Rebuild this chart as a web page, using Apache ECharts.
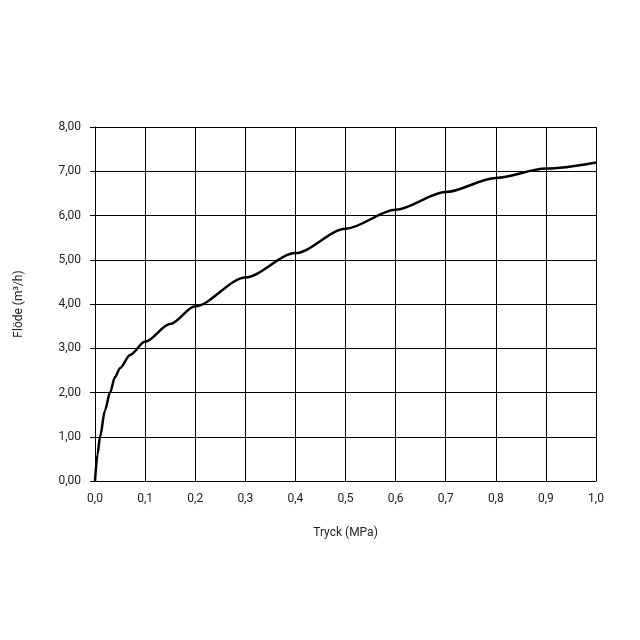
<!DOCTYPE html>
<html><head><meta charset="utf-8">
<script src="https://cdn.jsdelivr.net/npm/echarts@6/dist/echarts.min.js"></script>
<style>html,body{margin:0;padding:0;background:#fff}#c{width:640px;height:640px}</style>
</head><body><div id="c"></div>
<script>
const pressure = [0,0.005,0.01,0.02,0.03,0.04,0.05,0.07,0.1,0.15,0.2,0.3,0.4,0.5,0.6,0.7,0.8,0.9,1.0];
const flow = [0,0.6,1.0,1.6,2.0,2.35,2.55,2.85,3.15,3.55,3.95,4.6,5.15,5.7,6.13,6.53,6.85,7.06,7.2];
const data = pressure.map((p,i)=>[p,flow[i]]);
const chart = echarts.init(document.getElementById('c'));
const font = 'Roboto';
chart.setOption({
  animation:false,
  grid:{left:95,right:44,top:127,bottom:159},
  xAxis:{type:'value',min:0,max:1,interval:0.1,name:'Tryck (MPa)',nameLocation:'middle',nameGap:46,
    nameTextStyle:{color:'#222',fontSize:12,fontFamily:font},
    axisLine:{lineStyle:{color:'#000'}},axisTick:{show:false},
    splitLine:{lineStyle:{color:'#000',width:1}},
    axisLabel:{color:'#222',fontSize:12,fontFamily:font,margin:12,formatter:v=>v.toFixed(1).replace('.',',')}},
  yAxis:{type:'value',min:0,max:8,interval:1,name:'Flöde (m³/h)',nameLocation:'middle',nameGap:70,
    nameTextStyle:{color:'#222',fontSize:12,fontFamily:font},
    axisLine:{show:true,lineStyle:{color:'#000'}},axisTick:{show:true,length:5,lineStyle:{color:'#000'}},
    splitLine:{lineStyle:{color:'#000',width:1}},
    axisLabel:{color:'#222',fontSize:12,fontFamily:font,margin:14,formatter:v=>v.toFixed(2).replace('.',',')}},
  series:[{type:'line',data:data,smooth:0.3,smoothMonotone:'x',showSymbol:false,lineStyle:{color:'#000',width:2.5}}]
});
</script></body></html>
